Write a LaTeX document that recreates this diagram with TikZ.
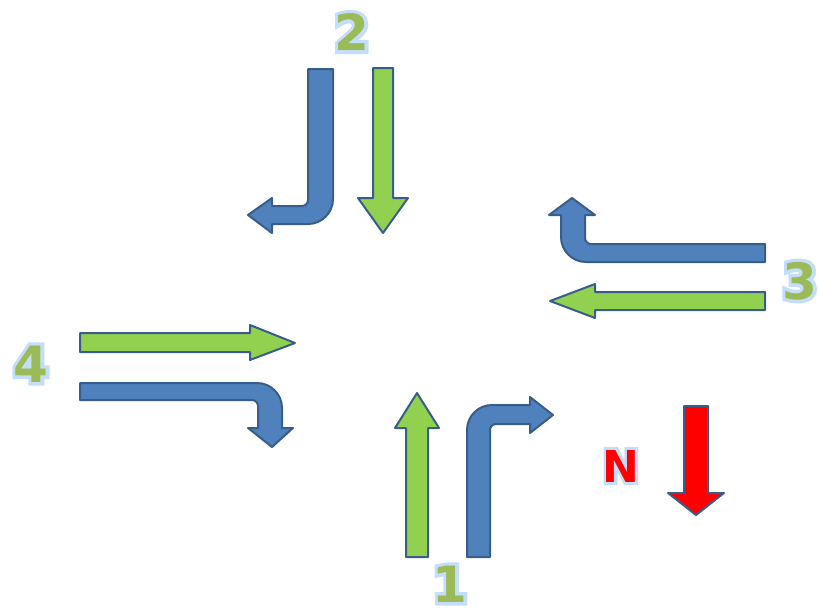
\documentclass[tikz,border=0pt]{standalone}
\usepackage{fontspec}
\setmainfont{DejaVu Sans}
\newfontfamily\glowfont{DejaVu Sans Bold}[FakeBold=14]
\definecolor{bluefill}{RGB}{79,129,189}
\definecolor{blueline}{RGB}{56,93,138}
\definecolor{greenfill}{RGB}{146,208,80}
\definecolor{labelgreen}{RGB}{155,187,89}
\definecolor{glowblue}{RGB}{196,222,250}
\newcommand{\glowlabel}[2]{\makebox[0pt][l]{\glowfont\color{glowblue}#2}{\bfseries\color{#1}#2}}
\tikzset{
  bluearrow/.style={fill=bluefill,draw=blueline,line width=2pt,line join=round},
  greenarrow/.style={fill=greenfill,draw=blueline,line width=2pt,line join=round},
  redarrow/.style={fill=red,draw=blueline,line width=2pt,line join=round},
  numlabel/.style={inner sep=0pt,font=\fontsize{50}{50}\selectfont},
}
\begin{document}
\begin{tikzpicture}[x=1pt,y=-1pt]
\useasboundingbox (0,0) rectangle (819,613);
% arrow 2 (top, heading south)
\draw[bluearrow] (308,69) -- (333,69) -- (333,199) arc[start angle=0,end angle=90,radius=25]
  -- (272,224) -- (272,233) -- (248,215) -- (272,198) -- (272,206) -- (302,206)
  arc[start angle=90,end angle=0,radius=6] -- cycle;
\draw[greenarrow] (373,68) -- (393,68) -- (393,198) -- (408,198) -- (383,233) -- (358,198) -- (373,198) -- cycle;
% arrow 3 (right, heading west)
\draw[bluearrow] (765,244) -- (591,244) arc[start angle=90,end angle=180,radius=6]
  -- (585,215) -- (595,215) -- (572,198) -- (549,215) -- (561,215) -- (561,237)
  arc[start angle=180,end angle=90,radius=25] -- (765,262) -- cycle;
\draw[greenarrow] (765,292) -- (765,310) -- (595,310) -- (595,318) -- (550,301) -- (595,284) -- (595,292) -- cycle;
% arrow 4 (left, heading east)
\draw[greenarrow] (80,333) -- (250,333) -- (250,325) -- (295,343) -- (250,360) -- (250,352) -- (80,352) -- cycle;
\draw[bluearrow] (80,383) -- (257,383) arc[start angle=270,end angle=360,radius=25]
  -- (282,428) -- (293,428) -- (272,447) -- (248,428) -- (258,428) -- (258,406)
  arc[start angle=0,end angle=-90,radius=6] -- (80,400) -- cycle;
% arrow 1 (bottom, heading north)
\draw[greenarrow] (406,557) -- (406,428) -- (395,428) -- (417,393) -- (439,428) -- (428,428) -- (428,557) -- cycle;
\draw[bluearrow] (467,557) -- (467,430) arc[start angle=180,end angle=270,radius=25]
  -- (530,405) -- (530,397) -- (553,415) -- (530,433) -- (530,424) -- (496,424)
  arc[start angle=270,end angle=180,radius=6] -- (490,557) -- cycle;
% north arrow
\draw[redarrow] (684,406) -- (708,406) -- (708,493) -- (724,493) -- (696,515) -- (668,493) -- (684,493) -- cycle;
% labels
\node[numlabel] (l2) at (352,32) {\glowlabel{labelgreen}{2}};
\node[numlabel] (l3) at (800,281) {\glowlabel{labelgreen}{3}};
\node[numlabel] (l4) at (31,364) {\glowlabel{labelgreen}{4}};
\node[numlabel] (l1) at (450,584) {\glowlabel{labelgreen}{1}};
\node[numlabel,font=\fontsize{44}{44}\selectfont] (ln) at (621,466) {\glowlabel{red}{N}};
\end{tikzpicture}
\end{document}
